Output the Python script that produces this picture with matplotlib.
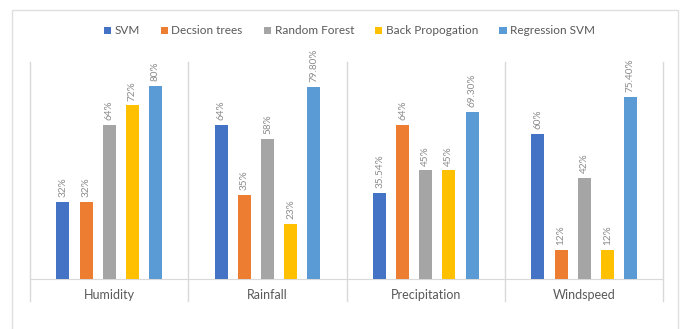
"""Grouped bar chart of model accuracy per weather parameter."""

import matplotlib.pyplot as plt
from matplotlib.patches import Rectangle
import numpy as np

CATEGORIES = ["Humidity", "Rainfall", "Precipitation", "Windspeed"]
MODELS = ["SVM", "Decsion trees", "Random Forest", "Back Propogation", "Regression SVM"]

SVM = [32, 64, 35.54, 60]
DECISION_TREES = [32, 35, 64, 12]
RANDOM_FOREST = [64, 58, 45, 42]
BACK_PROP = [72, 23, 45, 12]
REGRESSION_SVM = [80, 79.80, 69.30, 75.40]

LABELS = [
    ["32%", "64%", "35.54%", "60%"],
    ["32%", "35%", "64%", "12%"],
    ["64%", "58%", "45%", "42%"],
    ["72%", "23%", "45%", "12%"],
    ["80%", "79.80%", "69.30%", "75.40%"],
]

COLORS = ["#4472C4", "#ED7D31", "#A5A5A5", "#FFC000", "#5B9BD5"]
GRID = "#d9d9d9"
TEXT = "#595959"


def main():
    plt.rcParams["font.family"] = ["Lato", "DejaVu Sans"]

    fig = plt.figure(figsize=(6.85, 3.29), dpi=100)
    ax = fig.add_axes([0.0438, 0.152, 0.9245, 0.6596])

    # light frame round the whole chart
    fig.patches.append(Rectangle((12 / 685, -0.01), 666 / 685, 1 - 10 / 329 + 0.01,
                                 transform=fig.transFigure, fill=False,
                                 edgecolor="#e0e0e0", linewidth=1.0))

    series = [SVM, DECISION_TREES, RANDOM_FOREST, BACK_PROP, REGRESSION_SVM]
    x = np.arange(len(CATEGORIES))
    step = 0.146
    width = 0.082
    for i, (name, vals) in enumerate(zip(MODELS, series)):
        pos = x + (i - 2) * step
        ax.bar(pos, vals, width=width, color=COLORS[i], label=name, zorder=3)
        for px, v, lab in zip(pos, vals, LABELS[i]):
            ax.text(px, v + 2.0, lab, rotation=90, ha="center", va="bottom",
                    fontsize=7.2, color="#8c8c8c", clip_on=False)

    ax.set_xlim(-0.5, len(CATEGORIES) - 0.5)
    ax.set_ylim(0, 90)

    # category separators running below the baseline
    for b in np.arange(-0.5, len(CATEGORIES), 1.0):
        ax.plot([b, b], [-0.1, 1.0], color=GRID, linewidth=1.0,
                transform=ax.get_xaxis_transform(), clip_on=False, zorder=1)

    for side in ("top", "right", "left"):
        ax.spines[side].set_visible(False)
    ax.spines["bottom"].set_color(GRID)
    ax.set_yticks([])
    ax.set_xticks(x)
    ax.set_xticklabels(CATEGORIES, fontsize=9, color=TEXT)
    ax.tick_params(axis="x", length=0, pad=7)

    fig.legend(loc="center", bbox_to_anchor=(0.51, 1 - 31 / 329), ncol=5,
               frameon=False, fontsize=8.5, handlelength=0.6, handleheight=0.6,
               handletextpad=0.3, columnspacing=1.8, labelcolor=TEXT)

    fig.savefig("out.png", dpi=100)
    plt.close(fig)


if __name__ == "__main__":
    main()
